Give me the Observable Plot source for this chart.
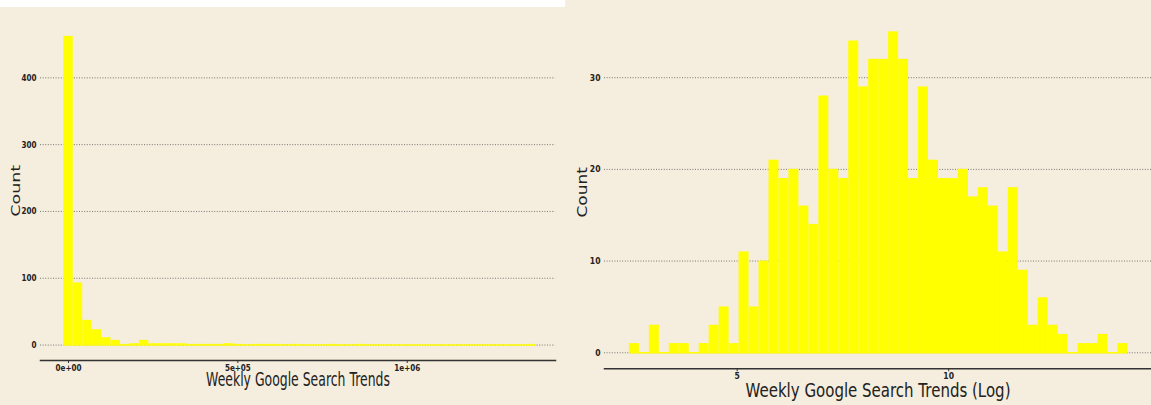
<!DOCTYPE html>
<html><head><meta charset="utf-8">
<script src="https://cdn.jsdelivr.net/npm/d3@7"></script>
<script src="https://cdn.jsdelivr.net/npm/@observablehq/plot@0.6"></script>
<style>
html,body{margin:0;padding:0;background:#f5eddd;}
#wrap{position:relative;width:1151px;height:405px;overflow:hidden;background:#f5eddd;}
#left{position:absolute;left:0;top:0;}
#right{position:absolute;left:565px;top:0;}
#topwhite{position:absolute;left:0;top:0;width:565px;height:7px;background:#ffffff;z-index:5;}
</style></head>
<body><div id="wrap"><div id="left"></div><div id="right"></div><div id="topwhite"></div></div>
<script>
// ---- Left panel: raw weekly search trends histogram (50 bins) ----
const rawBinCenter0 = 0;
const rawBinWidth = 27900;
const rawCounts = [462, 93, 37, 23, 11, 7, 1, 2, 7, 2,
                   2, 2, 2, 1, 1, 1, 1, 2, 1, 0,
                   1, 1, 1, 0, 1, 0, 0, 0, 1, 0,
                   0, 1, 0, 0, 0, 0, 0, 0, 0, 0,
                   0, 0, 0, 0, 0, 0, 0, 0, 0, 1];
const rawXTicks = [0, 500000, 1000000];
const rawXTickLabels = ["0e+00", "5e+05", "1e+06"];
const rawYTicks = [0, 100, 200, 300, 400];
const rawXTitle = "Weekly Google Search Trends";

// ---- Right panel: log weekly search trends histogram (50 bins) ----
const logBinCenter0 = 2.57;
const logBinWidth = 0.2357;
const logCounts = [1, 0, 3, 0, 1, 1, 0, 1, 3, 5,
                   1, 11, 5, 10, 21, 19, 20, 16, 14, 28,
                   20, 19, 34, 29, 32, 32, 35, 32, 19, 29,
                   21, 19, 19, 20, 17, 18, 16, 11, 18, 9,
                   3, 6, 3, 2, 0, 1, 1, 2, 0, 1];
const logXTicks = [5, 10];
const logYTicks = [0, 10, 20, 30];
const logXTitle = "Weekly Google Search Trends (Log)";
const yTitle = "Count";

const BAR = "#ffff00";
const GRID = "#6a6a6a";
const AXIS = "#333333";
const FONT = "DejaVu Sans";

function bins(center0, width, counts) {
  return counts.map((c, i) => ({
    x0: center0 + (i - 0.5) * width,
    x1: center0 + (i + 0.5) * width,
    count: c
  }));
}

function squish(svg, rules) {
  d3.select(svg).selectAll("text").each(function () {
    const txt = this.textContent;
    const r = rules(txt);
    if (!r) return;
    const t = this.getAttribute("transform");
    if (t && /^\s*translate\([^)]*\)/.test(t)) {
      this.setAttribute("transform", t.replace(/^\s*(translate\([^)]*\))/, `$1 scale(${r},1)`));
    } else {
      const x = +(this.getAttribute("x") || 0), y = +(this.getAttribute("y") || 0);
      this.setAttribute("transform", `translate(${x},${y}) scale(${r},1) translate(${-x},${-y})` + (t ? " " + t : ""));
    }
  });
}

// Left chart
const rawBins = bins(rawBinCenter0, rawBinWidth, rawCounts);
const leftPlot = Plot.plot({
  width: 565, height: 405,
  marginLeft: 40, marginRight: 10, marginTop: 20.5, marginBottom: 45,
  style: {background: "transparent", fontFamily: FONT},
  x: {domain: [-82700, 1437800], axis: null},
  y: {domain: [-23.1, 485.1], axis: null},
  marks: [
    Plot.gridY(rawYTicks, {stroke: GRID, strokeOpacity: 1, strokeDasharray: "1,1.6", strokeWidth: 0.9}),
    Plot.ruleY([0], {x1: rawBins[0].x0, x2: rawBins[rawBins.length - 1].x1, stroke: BAR, strokeWidth: 1.4}),
    Plot.rectY(rawBins, {x1: "x0", x2: "x1", y: "count", fill: BAR, inset: 0}),
    Plot.frame({anchor: "bottom", stroke: AXIS, strokeWidth: 1.5}),
    Plot.axisY(rawYTicks, {tickSize: 0, tickPadding: 4, fontSize: 9, fontWeight: "bold", fill: "#222", label: null}),
    Plot.axisX(rawXTicks, {tickSize: 3, tickPadding: 1.5, fontSize: 9, fontWeight: "bold", fill: "#222", stroke: AXIS, label: null,
      tickFormat: d => rawXTickLabels[rawXTicks.indexOf(d)]}),
    Plot.text([rawXTitle], {frameAnchor: "bottom", lineAnchor: "middle", textAnchor: "middle", dy: 19.5, fontSize: 19, fill: "#222", text: d => d}),
    Plot.text([yTitle], {frameAnchor: "left", lineAnchor: "middle", textAnchor: "middle", dx: -25, rotate: -90, fontSize: 17.5, fill: "#222", text: d => d})
  ]
});
squish(leftPlot, t => t === rawXTitle ? 0.655 : t === yTitle ? 0.72 : 0.8);
document.getElementById("left").appendChild(leftPlot);

// Right chart
const logBins = bins(logBinCenter0, logBinWidth, logCounts);
const rightPlot = Plot.plot({
  width: 586, height: 405,
  marginLeft: 39, marginRight: 0, marginTop: 15.3, marginBottom: 36.7,
  style: {background: "transparent", fontFamily: FONT},
  x: {domain: [1.863, 14.795], axis: null},
  y: {domain: [-1.75, 36.75], axis: null},
  marks: [
    Plot.gridY(logYTicks, {stroke: GRID, strokeOpacity: 1, strokeDasharray: "1,1.6", strokeWidth: 0.9}),
    Plot.ruleY([0], {x1: logBins[0].x0, x2: logBins[logBins.length - 1].x1, stroke: BAR, strokeWidth: 1.4}),
    Plot.rectY(logBins, {x1: "x0", x2: "x1", y: "count", fill: BAR, inset: 0}),
    Plot.frame({anchor: "bottom", stroke: AXIS, strokeWidth: 1.5}),
    Plot.axisY(logYTicks, {tickSize: 0, tickPadding: 4, fontSize: 9, fontWeight: "bold", fill: "#222", label: null}),
    Plot.axisX(logXTicks, {tickSize: 3, tickPadding: 1, fontSize: 9, fontWeight: "bold", fill: "#222", stroke: AXIS, label: null}),
    Plot.text([logXTitle], {frameAnchor: "bottom", lineAnchor: "middle", textAnchor: "middle", dy: 22.5, fontSize: 19, fill: "#222", text: d => d}),
    Plot.text([yTitle], {frameAnchor: "left", lineAnchor: "middle", textAnchor: "middle", dx: -22.3, rotate: -90, fontSize: 17, fill: "#222", text: d => d})
  ]
});
squish(rightPlot, t => t === logXTitle ? 0.79 : t === yTitle ? 0.8 : 0.85);
document.getElementById("right").appendChild(rightPlot);
</script>
</body></html>
